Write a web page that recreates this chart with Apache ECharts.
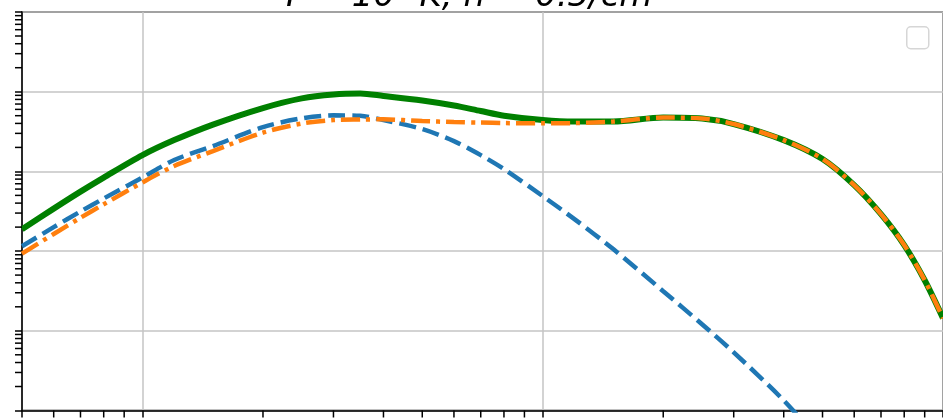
<!DOCTYPE html>
<html>
<head>
<meta charset="utf-8">
<script src="https://cdn.jsdelivr.net/npm/echarts@6/dist/echarts.min.js"></script>
<style>
html,body{margin:0;padding:0;background:#fff;}
#chart{width:943px;height:419px;}
</style>
</head>
<body>
<div id="chart"></div>
<script>
var energy=[0.5,0.6,0.7,0.8,1,1.2,1.5,2,2.5,3,3.5,4,5,6,7,8,10,12,15,20,25,30,40,50,60,70,80,90,100];
// green solid: total
var total=[0.00188,0.00341,0.00557,0.00836,0.0160,0.0247,0.0387,0.0624,0.0825,0.0925,0.0950,0.0885,0.0775,0.0670,0.0572,0.0500,0.0441,0.0422,0.0422,0.0474,0.0461,0.0393,0.0247,0.0143,0.00673,0.00291,0.00119,0.000431,0.000144];
// blue dashed (runs off the bottom after x=40)
var partA=[0.00115,0.00200,0.00314,0.00457,0.00838,0.0139,0.0208,0.0360,0.0463,0.0505,0.0498,0.0441,0.0340,0.0240,0.0160,0.0107,0.00489,0.00252,0.00106,0.000314,0.000121,0.0000537,0.0000134,0.00000386];
// orange dash-dot
var partB=[0.000928,0.00164,0.00262,0.00387,0.00727,0.0117,0.0180,0.0307,0.0399,0.0441,0.0448,0.0450,0.0428,0.0416,0.0410,0.0404,0.0401,0.0404,0.0422,0.0474,0.0461,0.0393,0.0247,0.0143,0.00673,0.00291,0.00119,0.000431,0.000144];
var xRange=[0.5,100];
var yRange=[1e-5,1];
var minorX=[0.6,0.7,0.8,0.9,2,3,4,5,6,7,8,9,20,30,40,50,60,70,80,90];
var mant=[2,3,4,5,6,7,8,9];
var decades=[1e-5,1e-4,1e-3,1e-2,1e-1];
var titleText='T = 10⁴ K, n = 0.5/cm³';

var minorY=[];
for(var d=0;d<decades.length;d++){
    for(var m=0;m<mant.length;m++){
        minorY.push(+(mant[m]*decades[d]).toPrecision(3));
    }
}
function pairs(ys){
    var out=[];
    for(var i=0;i<ys.length;i++){
        out.push([energy[i],ys[i]]);
    }
    return out;
}
function tickSeries(data,vertical){
    return {
        type:'custom',
        coordinateSystem:'cartesian2d',
        silent:true,
        clip:false,
        z:10,
        data:data,
        renderItem:function(params,api){
            var p=api.coord([api.value(0),api.value(1)]);
            var shape=vertical
                ? {x1:p[0],y1:p[1],x2:p[0],y2:p[1]+7}
                : {x1:p[0]-7,y1:p[1],x2:p[0],y2:p[1]};
            return {type:'line',shape:shape,style:{stroke:'#000',lineWidth:1.5}};
        }
    };
}

var chart=echarts.init(document.getElementById('chart'));
var axisCommon={
    type:'log',
    logBase:10,
    axisLine:{show:true,onZero:false,lineStyle:{color:'#000',width:1.5}},
    axisTick:{show:true,inside:false,length:7,lineStyle:{color:'#000',width:1.5}},
    axisLabel:{show:false},
    splitLine:{show:true,lineStyle:{color:'#c4c4c4',width:1.5}},
    minorTick:{show:false},
    minorSplitLine:{show:false}
};
var option={
    animation:false,
    backgroundColor:'#fff',
    title:{
        text:titleText,
        left:276,
        top:-25,
        textStyle:{fontFamily:'DejaVu Sans',fontStyle:'italic',fontWeight:'normal',fontSize:34,color:'#000'}
    },
    grid:{left:22,top:12,width:923,height:398.5,show:true,borderColor:'#000',borderWidth:1.5,backgroundColor:'#fff',containLabel:false},
    xAxis:Object.assign({},axisCommon,{min:xRange[0],max:xRange[1]}),
    yAxis:Object.assign({},axisCommon,{min:yRange[0],max:yRange[1]}),
    graphic:[{
        type:'rect',
        left:906,
        top:26,
        z:100,
        shape:{width:22,height:22,r:4},
        style:{fill:'rgba(255,255,255,0.8)',stroke:'#d6d6d6',lineWidth:1.5}
    }],
    series:[
        {
            name:'total',
            type:'line',
            data:pairs(total),
            symbol:'none',
            smooth:0.3,
            z:2,
            lineStyle:{color:'#008000',width:6}
        },
        {
            name:'A',
            type:'line',
            data:pairs(partA),
            symbol:'none',
            smooth:0.3,
            z:3,
            lineStyle:{color:'#1f77b4',width:4.5,type:[17,7]}
        },
        {
            name:'B',
            type:'line',
            data:pairs(partB),
            symbol:'none',
            smooth:0.3,
            z:4,
            lineStyle:{color:'#ff7f0e',width:4.5,type:[19,6,4,6]}
        },
        tickSeries(minorX.map(function(v){return [v,yRange[0]];}),true),
        tickSeries(minorY.map(function(v){return [xRange[0],v];}),false)
    ]
};
chart.setOption(option);
</script>
</body>
</html>
